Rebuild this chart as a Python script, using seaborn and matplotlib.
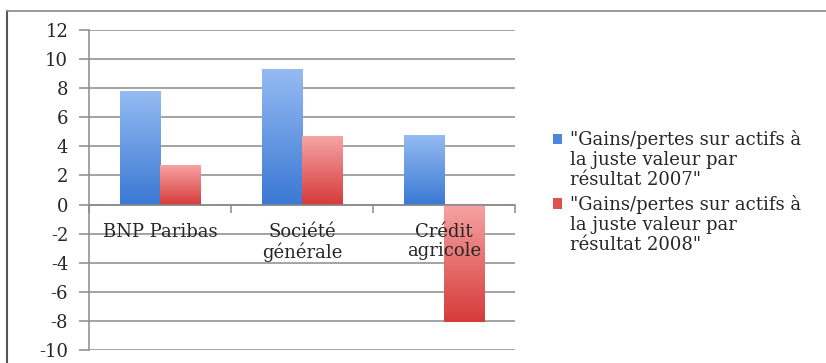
import numpy as np
import pandas as pd
import matplotlib
matplotlib.use("Agg")
import matplotlib.pyplot as plt
import seaborn as sns
from matplotlib.lines import Line2D
from matplotlib.legend_handler import HandlerPatch
from matplotlib.patches import Rectangle

banks = ["BNP Paribas", "Société\ngénérale", "Crédit\nagricole"]
gains_2007 = [7.8, 9.3, 4.8]
gains_2008 = [2.7, 4.7, -8.1]
series = ['"Gains/pertes sur actifs à\nla juste valeur par\nrésultat 2007"',
          '"Gains/pertes sur actifs à\nla juste valeur par\nrésultat 2008"']
yticks = [12, 10, 8, 6, 4, 2, 0, -2, -4, -6, -8, -10]

df = pd.DataFrame({
    "bank": banks * 2,
    "value": gains_2007 + gains_2008,
    "series": [series[0]] * 3 + [series[1]] * 3,
})

sns.set_style("white")
plt.rcParams["font.family"] = ["DejaVu Serif"]
FS = 13

fig = plt.figure(figsize=(8.26, 3.63), dpi=100)
ax = fig.add_axes([89/826, 1-350/363, (515-89)/826, (350-30)/363])

blue_top, blue_bot = "#95bbf3", "#3a78d3"
red_top, red_bot = "#f6a3a3", "#d63a3a"
sns.barplot(data=df, x="bank", y="value", hue="series", order=banks,
            hue_order=series, palette=[blue_bot, red_bot], width=0.57,
            ax=ax, legend=False, saturation=1)

# gradient fill for bars (light at top, dark at bottom)
grad = np.linspace(0, 1, 256).reshape(-1, 1)
for p in ax.patches:
    if p.get_height() == 0:
        continue
    fc = p.get_facecolor()
    is_blue = fc[2] > fc[0]
    top, bot = (blue_top, blue_bot) if is_blue else (red_top, red_bot)
    cmap = matplotlib.colors.LinearSegmentedColormap.from_list("g", [bot, top])
    x0, y0 = p.get_x(), p.get_y()
    w, h = p.get_width(), p.get_height()
    ylo, yhi = min(y0, y0 + h), max(y0, y0 + h)
    im = ax.imshow(grad, extent=[x0, x0 + w, ylo, yhi], cmap=cmap,
                   aspect="auto", zorder=2, origin="lower")
    im.set_clip_path(p)
    p.set_facecolor("none")
    p.set_edgecolor("none")

ax.set_xlim(-0.5, 2.5)
ax.set_ylim(-10, 12)
ax.set_yticks(yticks)
ax.set_yticklabels([str(t) for t in yticks], fontsize=FS)
ax.grid(axis="y", color="#8a8a8a", lw=1.1)
ax.set_axisbelow(True)
ax.set_xlabel("")
ax.set_ylabel("")

for s in ["top", "right"]:
    ax.spines[s].set_visible(False)
ax.spines["left"].set_color("#8a8a8a")
ax.spines["left"].set_linewidth(1.1)
ax.spines["bottom"].set_position(("data", 0))
ax.spines["bottom"].set_color("#8a8a8a")
ax.spines["bottom"].set_linewidth(1.1)
ax.tick_params(axis="y", length=7, color="#8a8a8a", width=1.1, pad=8, left=True)

ax.set_xticks([0, 1, 2])
ax.set_xticklabels(banks, fontsize=FS, linespacing=1.1, va="top")
ax.tick_params(axis="x", length=0, pad=13)
ax.set_xticks([-0.5, 0.5, 1.5, 2.5], minor=True)
ax.tick_params(axis="x", which="minor", length=6, color="#8a8a8a", width=1.1,
               direction="out", bottom=True)
ax.xaxis.set_zorder(5)


class TopHandler(HandlerPatch):
    def create_artists(self, legend, orig_handle, xdescent, ydescent,
                       width, height, fontsize, trans):
        r = Rectangle((-xdescent, -ydescent + 1.2 * fontsize), width, height,
                      facecolor=orig_handle.get_facecolor(), edgecolor="none",
                      transform=trans)
        return [r]


handles = [Rectangle((0, 0), 1, 1, fc="#4f86dc"),
           Rectangle((0, 0), 1, 1, fc="#e05050")]
leg = fig.legend(handles, series, loc="upper left",
                 bbox_to_anchor=(537/826, 1-114/363), frameon=False,
                 fontsize=FS, handlelength=0.5, handleheight=0.5,
                 handletextpad=0.45, labelspacing=0.3,
                 handler_map={Rectangle: TopHandler()})
for t in leg.get_texts():
    t.set_linespacing(1.15)

# scanned-page frame
fig.add_artist(Line2D([7/826, 7/826], [0, 1-11/363], transform=fig.transFigure,
                      color="#555555", lw=1.5))
fig.add_artist(Line2D([7/826, 1], [1-11/363, 1-11/363], transform=fig.transFigure,
                      color="#888888", lw=1.2))

fig.savefig("out.png", dpi=100)
